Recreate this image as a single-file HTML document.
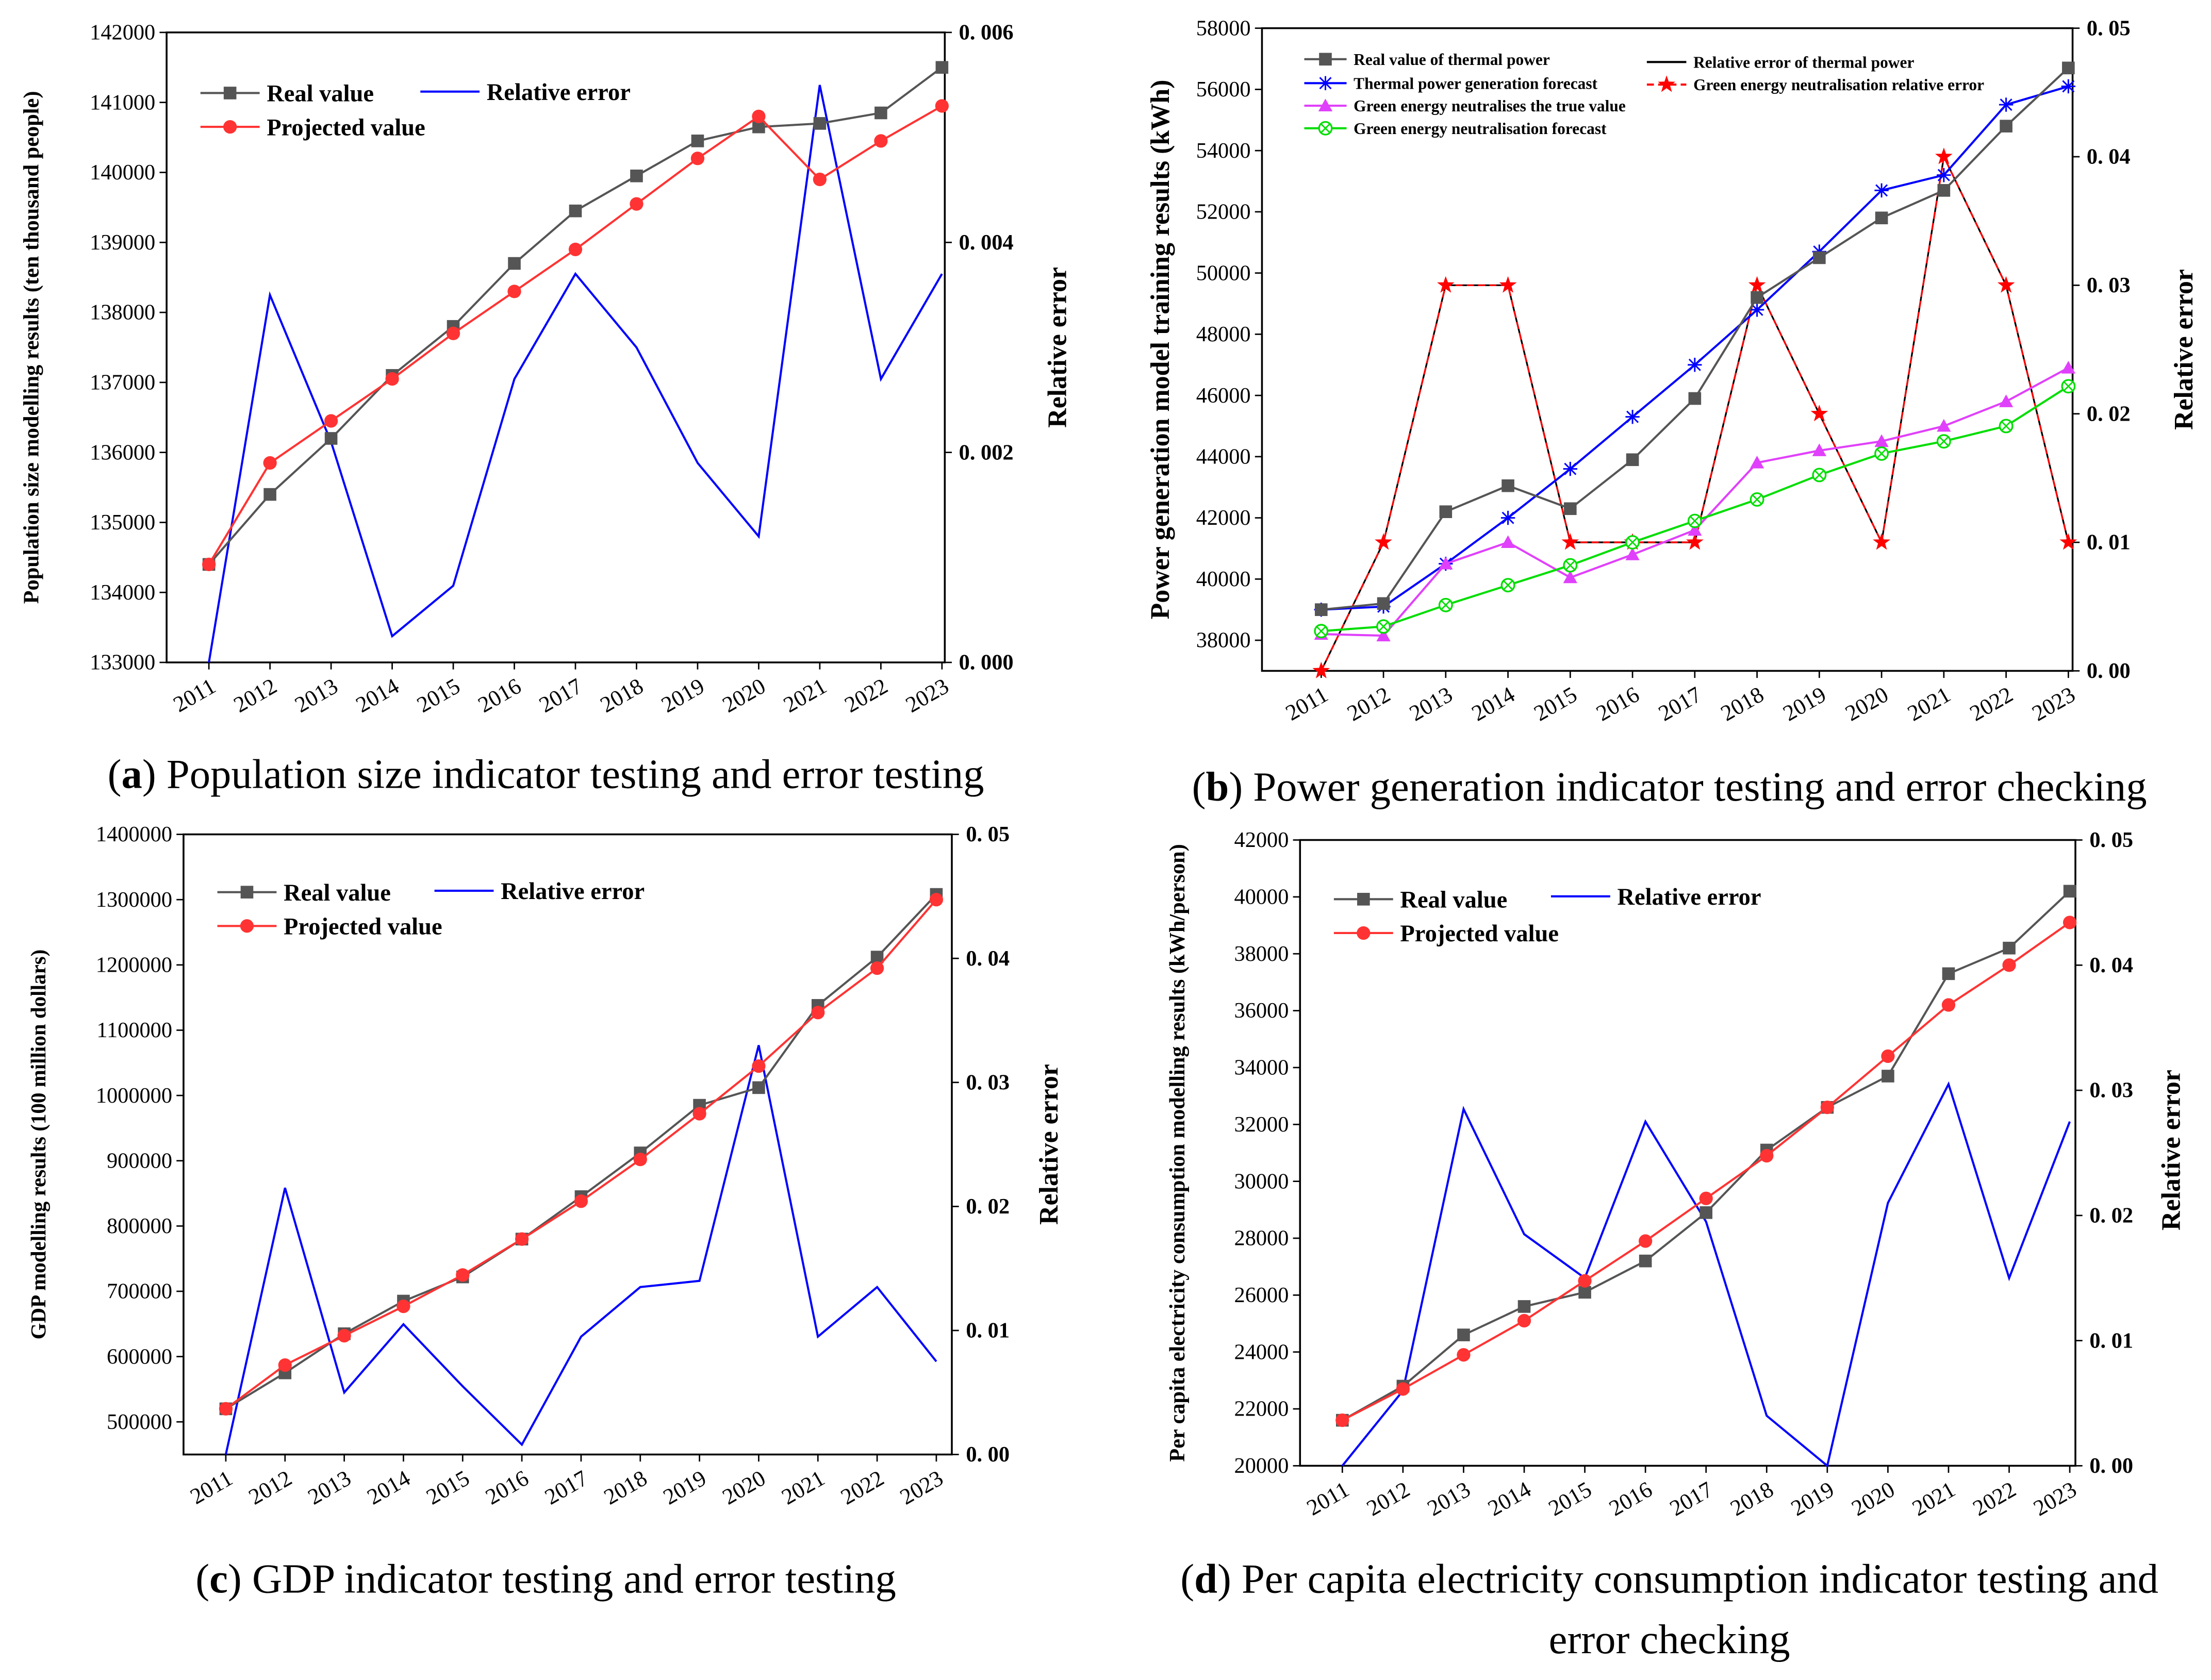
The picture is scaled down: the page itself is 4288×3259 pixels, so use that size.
<!DOCTYPE html>
<html><head><meta charset="utf-8"><style>
html,body{margin:0;padding:0;background:#fff;}
svg{display:block;font-family:"Liberation Serif",serif;}
</style></head><body>
<svg id="c" width="4288" height="3259" viewBox="0 0 1568 1192" xmlns="http://www.w3.org/2000/svg"></svg>
<script>
const years=["2011","2012","2013","2014","2015","2016","2017","2018","2019","2020","2021","2022","2023"];
// Panel a
const aReal=[134400,135400,136200,137100,137800,138700,139450,139950,140450,140650,140700,140850,141500];
const aProj=[134400,135850,136450,137050,137700,138300,138900,139550,140200,140800,139900,140450,140950];
const aErr=[0,0.0035,0.0021,0.00025,0.00073,0.0027,0.0037,0.003,0.0019,0.0012,0.0055,0.0027,0.0037];
const aLeftTicks=[133000,134000,135000,136000,137000,138000,139000,140000,141000,142000];
const aRightTicks=[0,0.002,0.004,0.006];
const aRightLabels=["0. 000","0. 002","0. 004","0. 006"];
// Panel b
const bReal=[39000,39200,42200,43050,42300,43900,45900,49200,50500,51800,52700,54800,56700];
const bFore=[39000,39100,40500,42000,43600,45300,47000,48800,50700,52700,53200,55500,56100];
const bGreen=[38200,38150,40500,41200,40050,40800,41600,43800,44200,44500,45000,45800,46900];
const bGreenFore=[38300,38450,39150,39800,40450,41200,41900,42600,43400,44100,44500,45000,46300];
const bErr=[0,0.01,0.03,0.03,0.01,0.01,0.01,0.03,0.02,0.01,0.04,0.03,0.01];
const bLeftTicks=[38000,40000,42000,44000,46000,48000,50000,52000,54000,56000,58000];
const bRightTicks=[0,0.01,0.02,0.03,0.04,0.05];
const bRightLabels=["0. 00","0. 01","0. 02","0. 03","0. 04","0. 05"];
// Panel c
const cReal=[520000,575000,635000,685000,722000,780000,845000,912000,985000,1012000,1138000,1212000,1308000];
const cProj=[520000,587000,632000,677000,725000,780000,838000,902000,972000,1045000,1127000,1195000,1300000];
const cErr=[0,0.0215,0.005,0.0105,0.0055,0.0008,0.0095,0.0135,0.014,0.033,0.0095,0.0135,0.0075];
const cLeftTicks=[500000,600000,700000,800000,900000,1000000,1100000,1200000,1300000,1400000];
const cRightTicks=[0,0.01,0.02,0.03,0.04,0.05];
const cRightLabels=["0. 00","0. 01","0. 02","0. 03","0. 04","0. 05"];
// Panel d
const dReal=[21600,22800,24600,25600,26100,27200,28900,31100,32600,33700,37300,38200,40200];
const dProj=[21600,22700,23900,25100,26500,27900,29400,30900,32600,34400,36200,37600,39100];
const dErr=[0,0.006,0.0285,0.0185,0.015,0.0275,0.0195,0.004,0,0.021,0.0305,0.015,0.0275];
const dLeftTicks=[20000,22000,24000,26000,28000,30000,32000,34000,36000,38000,40000,42000];
const dRightTicks=[0,0.01,0.02,0.03,0.04,0.05];
const dRightLabels=["0. 00","0. 01","0. 02","0. 03","0. 04","0. 05"];

const svg=document.getElementById('c');
const NS="http://www.w3.org/2000/svg";
function el(tag,attrs,parent,text){const e=document.createElementNS(NS,tag);for(const k in attrs)e.setAttribute(k,attrs[k]);if(text!==undefined)e.textContent=text;(parent||svg).appendChild(e);return e;}

function panel(P){
  const g=el('g',{});
  
  
  const {x0,x1,y0,y1}=P.box;
  const xs=i=>P.xa+(P.xb-P.xa)*i/12;
  const yl=v=>y1-(v-P.lmin)/(P.lmax-P.lmin)*(y1-y0);
  const yr=v=>y1-(v-P.rmin)/(P.rmax-P.rmin)*(y1-y0);
  const box=el('rect',{x:x0,y:y0,width:x1-x0,height:y1-y0,fill:'none',stroke:'#000','stroke-width':1.3},g);
  
  
  P.lt.forEach(v=>{const y=yl(v);el('line',{x1:x0,x2:x0-5,y1:y,y2:y,stroke:'#000'},g);
    const t=el('text',{x:x0-8,y:y+5,'text-anchor':'end','font-size':15.5},g,String(v));
    });
  P.rt.forEach((v,i)=>{const y=yr(v);el('line',{x1:x1,x2:x1+5,y1:y,y2:y,stroke:'#000'},g);
    const t=el('text',{x:x1+10,y:y+5,'font-size':15.5,'font-weight':'bold'},g,P.rl[i]);
    });
  years.forEach((yv,i)=>{const x=xs(i);el('line',{x1:x,x2:x,y1:y1,y2:y1+5,stroke:'#000'},g);
    const t=el('text',{x:x+6,y:y1+20,'text-anchor':'end','font-size':16,transform:`rotate(-30 ${x+6} ${y1+20})`},g,yv);
    });
  const lt=el('text',{x:P.ltx,y:(y0+y1)/2,'text-anchor':'middle','font-size':P.lfs||15,'font-weight':'bold',transform:`rotate(-90 ${P.ltx} ${(y0+y1)/2})`},g,P.ltitle);
  
  const rx=P.rtx;const rty=P.rty||(y0+y1)/2;
  const rt=el('text',{x:rx,y:rty,'text-anchor':'middle','font-size':19,'font-weight':'bold',transform:`rotate(-90 ${rx} ${rty})`},g,'Relative error');
  
  P.series.forEach(s=>{
    const f=s.axis==='r'?yr:yl;
    const pts=s.data.map((v,i)=>xs(i).toFixed(1)+','+f(v).toFixed(1)).join(' ');
    const pl=el('polyline',{points:pts,fill:'none',stroke:s.color,'stroke-width':s.w||1.5,'stroke-dasharray':s.dash||''},g);
    
    if(s.marker) s.data.forEach((v,i)=>{marker(g,s.marker,xs(i),f(v),s.mcolor||s.color,s.name);});
  });
  const cap=el('text',{x:P.cap.x,y:P.cap.y,'text-anchor':'middle','font-size':29.5},g);
  
  el('tspan',{},cap,'(');el('tspan',{'font-weight':'bold'},cap,P.cap.l);el('tspan',{},cap,') '+P.cap.t);
  if(P.cap.t2){const c2=el('text',{x:P.cap.x2,y:P.cap.y+43,'text-anchor':'middle','font-size':29.5},g,P.cap.t2);
    }
  return {g,xs,yl,yr};
}
function marker(g,type,x,y,c,name){
  let m;
  if(type==='sq') m=el('rect',{x:x-4.5,y:y-4.5,width:9,height:9,fill:c},g);
  else if(type==='ci') m=el('circle',{cx:x,cy:y,r:4.8,fill:c},g);
  else if(type==='tri') m=el('polygon',{points:`${x},${y-5} ${x-5},${y+4} ${x+5},${y+4}`,fill:c},g);
  else if(type==='oc'){m=el('g',{},g);el('circle',{cx:x,cy:y,r:4.5,fill:'#fff',stroke:c,'stroke-width':1.2},m);
    el('path',{d:`M${x-3} ${y-3}L${x+3} ${y+3}M${x-3} ${y+3}L${x+3} ${y-3}`,stroke:c,'stroke-width':1},m);}
  else if(type==='ast'){m=el('path',{d:`M${x-5} ${y}H${x+5}M${x} ${y-5}V${y+5}M${x-4} ${y-4}L${x+4} ${y+4}M${x-4} ${y+4}L${x+4} ${y-4}`,stroke:c,'stroke-width':1.1},g);}
  else if(type==='star'){let p=[];for(let k=0;k<10;k++){const r=k%2?2.6:6.5,a=-Math.PI/2+k*Math.PI/5;p.push((x+r*Math.cos(a)).toFixed(1)+','+(y+r*Math.sin(a)).toFixed(1));}
    m=el('polygon',{points:p.join(' '),fill:c},g);}
  
}
function legend(g,x,y,label,color,mk,fs,len,dash){
  const lg=el('g',{},g);
  
  el('line',{x1:x,x2:x+len,y1:y,y2:y,stroke:color,'stroke-width':1.5,'stroke-dasharray':dash||''},lg);
  if(mk) marker(lg,mk,x+len/2,y,mk==='star'?'#f00':color,'legend');
  el('text',{x:x+len+5,y:y+fs*0.35,'font-size':fs,'font-weight':'bold'},lg,label);
}

// a
let A=panel({name:'panel-a',box:{x0:118,x1:670,y0:23,y1:470},xa:148,xb:668,lmin:133000,lmax:142000,rmin:0,rmax:0.006,
 lt:aLeftTicks,rt:aRightTicks,rl:aRightLabels,ltx:27,lfs:15.5,ltitle:'Population size modelling results (ten thousand people)',rtx:756,
 series:[{name:'relative-error',data:aErr,axis:'r',color:'#00f'},{name:'real-value',data:aReal,color:'#555',marker:'sq'},{name:'projected-value',data:aProj,color:'#f33',marker:'ci'}],
 cap:{x:387,y:559,l:'a',t:'Population size indicator testing and error testing'}});
legend(A.g,142,66,'Real value','#555','sq',17,42);legend(A.g,142,90,'Projected value','#f33','ci',17,42);legend(A.g,298,65,'Relative error','#00f',null,17,42);

// b
let B=panel({name:'panel-b',box:{x0:895,x1:1470,y0:20,y1:476},xa:937,xb:1467,lmin:37000,lmax:58000,rmin:0,rmax:0.05,
 lt:bLeftTicks,rt:bRightTicks,rl:bRightLabels,ltx:829,lfs:19,ltitle:'Power generation model training results (kWh)',rtx:1555,rty:248,
 series:[{name:'thermal-relative-error',data:bErr,axis:'r',color:'#000',w:1.2},{name:'green-relative-error',data:bErr,axis:'r',color:'#f00',dash:'5,3',marker:'star',w:1.2},
 {name:'thermal-forecast',data:bFore,color:'#00f',marker:'ast'},{name:'thermal-real',data:bReal,color:'#555',marker:'sq'},
 {name:'green-true',data:bGreen,color:'#e040fb',marker:'tri'},{name:'green-forecast',data:bGreenFore,color:'#0d0',marker:'oc'}],
 cap:{x:1184,y:568,l:'b',t:'Power generation indicator testing and error checking'}});
legend(B.g,925,42,'Real value of thermal power','#555','sq',11.5,30);legend(B.g,925,59,'Thermal power generation forecast','#00f','ast',11.5,30);
legend(B.g,925,75,'Green energy neutralises the true value','#e040fb','tri',11.5,30);legend(B.g,925,91,'Green energy neutralisation forecast','#0d0','oc',11.5,30);
legend(B.g,1168,44,'Relative error of thermal power','#000',null,11.5,28);legend(B.g,1168,60,'Green energy neutralisation relative error','#f00','star',11.5,28,'5,3');

// c
let C=panel({name:'panel-c',box:{x0:130,x1:675,y0:592,y1:1032},xa:160,xb:664,lmin:450000,lmax:1400000,rmin:0,rmax:0.05,
 lt:cLeftTicks,rt:cRightTicks,rl:cRightLabels,ltx:32,lfs:15,ltitle:'GDP modelling results (100 million dollars)',rtx:750,rty:812,
 series:[{name:'relative-error',data:cErr,axis:'r',color:'#00f'},{name:'real-value',data:cReal,color:'#555',marker:'sq'},{name:'projected-value',data:cProj,color:'#f33',marker:'ci'}],
 cap:{x:387,y:1130,l:'c',t:'GDP indicator testing and error testing'}});
legend(C.g,154,633,'Real value','#555','sq',17,42);legend(C.g,154,657,'Projected value','#f33','ci',17,42);legend(C.g,308,632,'Relative error','#00f',null,17,42);

// d
let D=panel({name:'panel-d',box:{x0:922,x1:1472,y0:596,y1:1040},xa:952,xb:1468,lmin:20000,lmax:42000,rmin:0,rmax:0.05,
 lt:dLeftTicks,rt:dRightTicks,rl:dRightLabels,ltx:840,lfs:15.5,ltitle:'Per capita electricity consumption modelling results (kWh/person)',rtx:1546,rty:816,
 series:[{name:'relative-error',data:dErr,axis:'r',color:'#00f'},{name:'real-value',data:dReal,color:'#555',marker:'sq'},{name:'projected-value',data:dProj,color:'#f33',marker:'ci'}],
 cap:{x:1184,y:1130,l:'d',t:'Per capita electricity consumption indicator testing and',t2:'error checking',x2:1184}});
legend(D.g,946,638,'Real value','#555','sq',17,42);legend(D.g,946,662,'Projected value','#f33','ci',17,42);legend(D.g,1100,636,'Relative error','#00f',null,17,42);
</script>
</body></html>
